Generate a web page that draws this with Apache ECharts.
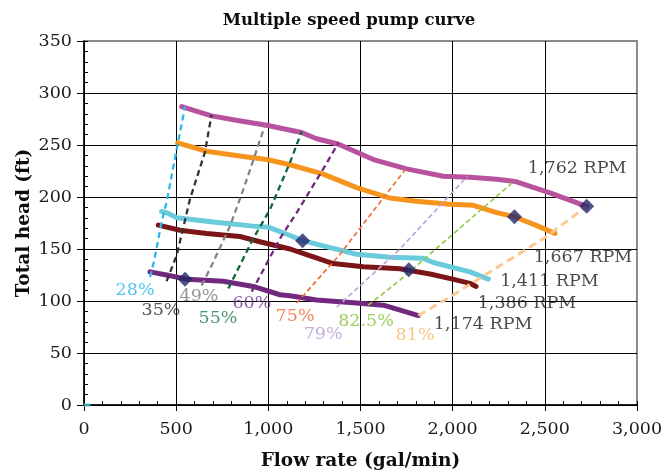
<!DOCTYPE html>
<html>
<head>
<meta charset="utf-8">
<script src="https://cdn.jsdelivr.net/npm/echarts@6/dist/echarts.min.js"></script>
<style>
  html, body { margin: 0; padding: 0; background: #fff; }
  #chart { width: 668px; height: 476px; }
</style>
</head>
<body>
<div id="chart"></div>
<script>
// Head-capacity curves at each pump speed: [flow gal/min, head ft]
const rpm1762 = [[530,287],[692,278],[850,273],[990,269],[1180,262],[1262,256],[1378,251],[1570,236],[1750,227],[1949,220],[2094,219],[2239,217],[2338,215],[2528,204],[2727,191]];
const rpm1667 = [[508,252],[665,244],[864,239],[991,236],[1118,231],[1298,222],[1479,209],[1660,199],[1800,196],[1986,193],[2112,192],[2239,185],[2335,181],[2450,173],[2555,165]];
const rpm1411 = [[421,186],[448,185],[503,180],[701,176],[918,172],[1000,171],[1118,163],[1186,158],[1298,153],[1479,145],[1660,142],[1841,141],[1895,137],[2094,128],[2194,121]];
const rpm1386 = [[403,173],[521,168],[665,165],[846,162],[954,157],[1118,150],[1200,145],[1352,136],[1515,133],[1714,131],[1877,126],[2000,121],[2094,117],[2127,114]];
const rpm1174 = [[358,128],[448,125],[557,121],[755,119],[918,114],[1063,106],[1118,105],[1262,101],[1479,98],[1624,96],[1720,91],[1814,86]];

// Best efficiency points
const bepPoints = [[548,121],[1186,158],[1762,130],[2335,181],[2727,191]];

// Iso-efficiency lines
const eff28 = [[358,123],[380,138],[421,176],[448,195],[503,246],[521,262],[548,287]];
const eff35 = [[448,119],[503,144],[575,198],[656,243],[692,279]];
const eff49 = [[638,115],[684,131],[792,172],[864,207],[982,269]];
const eff55 = [[783,112],[918,160],[1009,188],[1117,233],[1181,263]];
const eff60 = [[910,109],[1063,160],[1154,185],[1298,227],[1380,252]];
const eff75 = [[1154,98],[1389,145],[1606,195],[1750,228]];
const eff79 = [[1371,94],[1714,150],[2080,220]];
const eff825 = [[1542,96],[1714,120],[2338,216]];
const eff81 = [[1814,86],[1986,104],[2492,160],[2727,191]];

// Origin marker
const originPoint = [[0,0]];

// Axis tick labels
const xTickLabels = ['0','500','1,000','1,500','2,000','2,500','3,000'];
const yTickLabels = ['0','50','100','150','200','250','300','350'];

const SERIF = '"DejaVu Serif", "Liberation Serif", serif';
const TEXT_SIZE = 17.5;

// Speed curves and their text
const speedCurves = [
  { name: '1,762 RPM', data: rpm1762, color: '#b8529f' },
  { name: '1,667 RPM', data: rpm1667, color: '#f7941e' },
  { name: '1,411 RPM', data: rpm1411, color: '#69cbdb' },
  { name: '1,386 RPM', data: rpm1386, color: '#7c1517' },
  { name: '1,174 RPM', data: rpm1174, color: '#72287f' }
];
const speedLabelAt = {
  '1,762 RPM': [2675, 227],
  '1,667 RPM': [2707, 142],
  '1,411 RPM': [2525, 119],
  '1,386 RPM': [2403, 97.5],
  '1,174 RPM': [2165, 77.5]
};

// Efficiency lines, their styles and text
const effLines = [
  { name: '28%',   data: eff28,  color: '#2bb7ec', text: '#29b5e8', width: 2.3, dash: [6, 4] },
  { name: '35%',   data: eff35,  color: '#333333', text: '#2b2b2b', width: 2.3, dash: [6, 4] },
  { name: '49%',   data: eff49,  color: '#858585', text: '#7a7a7a', width: 2.3, dash: [6, 4] },
  { name: '55%',   data: eff55,  color: '#0c6934', text: '#237a4e', width: 2.3, dash: [6, 4] },
  { name: '60%',   data: eff60,  color: '#74277f', text: '#66338f', width: 2.3, dash: [6, 4] },
  { name: '75%',   data: eff75,  color: '#f26a30', text: '#f0673a', width: 1.6, dash: [5, 3] },
  { name: '79%',   data: eff79,  color: '#b9a0d6', text: '#b39bd2', width: 1.6, dash: [5, 3] },
  { name: '82.5%', data: eff825, color: '#8dc63f', text: '#86c23a', width: 1.6, dash: [5, 3] },
  { name: '81%',   data: eff81,  color: '#fdc892', text: '#f9b868', width: 3,   dash: [8, 5] }
];
const effLabelAt = {
  '28%': [277, 110], '35%': [418, 91], '49%': [624, 104], '55%': [727, 83],
  '60%': [911, 97.5], '75%': [1145, 85], '79%': [1297, 68], '82.5%': [1530, 80], '81%': [1796, 67]
};

const series = [];

speedCurves.forEach(c => {
  series.push({
    type: 'line', name: c.name, data: c.data, symbol: 'none', z: 3,
    lineStyle: { color: c.color, width: 5, cap: 'round', join: 'round' }
  });
});

effLines.forEach(e => {
  series.push({
    type: 'line', name: e.name, data: e.data, symbol: 'none', z: 4,
    lineStyle: { color: e.color, width: e.width, type: e.dash }
  });
});

series.push({
  type: 'scatter', name: 'BEP', data: bepPoints, symbol: 'diamond', symbolSize: 15, z: 6,
  itemStyle: { color: '#23266a' }
});

series.push({
  type: 'scatter', name: 'origin', data: originPoint, symbol: 'rect', symbolSize: [7, 3], z: 6,
  symbolOffset: [3, 0],
  itemStyle: { color: '#4fbfc9' }
});

// Text annotations placed through the axes
const annotations = []
  .concat(effLines.map(e => ({ value: effLabelAt[e.name], text: e.name, color: e.text })))
  .concat(speedCurves.map(c => ({ value: speedLabelAt[c.name], text: c.name, color: '#1a1a1a' })));

series.push({
  type: 'scatter', name: 'annotations', z: 7, symbolSize: 1, silent: true,
  itemStyle: { color: 'transparent' },
  data: annotations.map(a => ({
    value: a.value,
    label: {
      show: true, position: 'inside', formatter: a.text, color: a.color,
      fontFamily: SERIF, fontSize: TEXT_SIZE, align: 'center', verticalAlign: 'middle'
    }
  }))
});

const axisText = { fontFamily: SERIF, fontSize: TEXT_SIZE, color: '#1a1a1a' };
const axisNameText = { fontFamily: SERIF, fontSize: 18.5, fontWeight: 'bold', color: '#0d0d0d' };

const option = {
  animation: false,
  backgroundColor: '#ffffff',
  title: {
    text: 'Multiple speed pump curve',
    left: 344, top: 7, textAlign: 'center',
    textStyle: { fontFamily: SERIF, fontSize: 16.5, fontWeight: 'bold', color: '#0d0d0d' }
  },
  grid: {
    left: 84, right: 31, top: 41, bottom: 69,
    show: true, borderColor: '#8a8a8a', borderWidth: 2, backgroundColor: 'transparent'
  },
  xAxis: [
    {
      type: 'value', min: 0, max: 3000, interval: 500, position: 'bottom',
      name: 'Flow rate (gal/min)', nameLocation: 'middle', nameGap: 47, nameMoveOverlap: false,
      nameTextStyle: axisNameText,
      axisLine: { show: true, onZero: false, lineStyle: { color: '#000', width: 1.5 } },
      axisTick: { show: true, inside: false, length: 6, lineStyle: { color: '#000' } },
      axisLabel: {
        ...axisText, margin: 15,
        formatter: v => xTickLabels[Math.round(v / 500)]
      },
      splitLine: { show: true, showMaxLine: false, lineStyle: { color: '#000', width: 1 } }
    },
    {
      type: 'value', min: 0, max: 3000, interval: 100, position: 'bottom',
      axisLine: { show: false },
      axisTick: { show: true, inside: true, length: 4, lineStyle: { color: '#000' } },
      axisLabel: { show: false },
      splitLine: { show: false }
    }
  ],
  yAxis: [
    {
      type: 'value', min: 0, max: 350, interval: 50, position: 'left',
      name: 'Total head (ft)', nameLocation: 'middle', nameGap: 50, nameRotate: 90,
      nameMoveOverlap: false,
      nameTextStyle: axisNameText,
      axisLine: { show: true, onZero: false, lineStyle: { color: '#000', width: 1.5 } },
      axisTick: { show: true, inside: false, length: 7, lineStyle: { color: '#000' } },
      axisLabel: {
        ...axisText, margin: 12,
        formatter: v => yTickLabels[Math.round(v / 50)]
      },
      splitLine: { show: true, showMaxLine: false, lineStyle: { color: '#000', width: 1 } }
    },
    {
      type: 'value', min: 0, max: 350, interval: 10, position: 'left',
      axisLine: { show: false },
      axisTick: { show: true, inside: true, length: 4, lineStyle: { color: '#000' } },
      axisLabel: { show: false },
      splitLine: { show: false }
    }
  ],
  series: series
};

const chart = echarts.init(document.getElementById('chart'), null, { renderer: 'canvas' });
chart.setOption(option);
</script>
</body>
</html>
